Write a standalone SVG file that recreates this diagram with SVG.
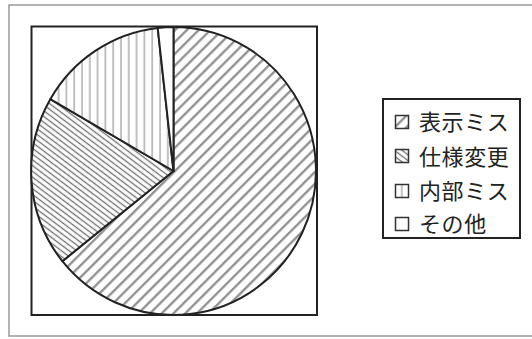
<svg xmlns="http://www.w3.org/2000/svg" width="532" height="339" viewBox="0 0 532 339">
<style>
.frame{fill:none;stroke:#222;stroke-width:2}
.outer{fill:none;stroke:#999;stroke-width:1.5}
.slice{stroke:#222;stroke-width:2;stroke-linejoin:round}
.icon{stroke:#333;stroke-width:1.5}
.lbl{font-family:"Noto Sans CJK JP","Noto Sans",sans-serif;font-size:22px;letter-spacing:0.6px;fill:#222}
</style>
<defs>
<pattern id="pDiag" patternUnits="userSpaceOnUse" width="8.3" height="10" patternTransform="rotate(45)">
<rect width="8.3" height="10" fill="#fff"/>
<line x1="4" y1="-1" x2="4" y2="11" stroke="#8a8a8a" stroke-width="2.2"/>
</pattern>
<pattern id="pBack" patternUnits="userSpaceOnUse" width="10" height="4.6" patternTransform="rotate(37)">
<rect width="10" height="4.6" fill="#fff"/>
<line x1="-1" y1="2.3" x2="11" y2="2.3" stroke="#6f6f6f" stroke-width="1.3"/>
</pattern>
<pattern id="pVert" patternUnits="userSpaceOnUse" width="7.8" height="10">
<rect width="7.8" height="10" fill="#fff"/>
<line x1="4" y1="-1" x2="4" y2="11" stroke="#a0a0a0" stroke-width="1.3"/>
</pattern>
</defs>
<rect class="outer" x="9" y="5" width="540" height="331"/>
<rect id="plot-area" class="frame" x="31.5" y="26.5" width="285.5" height="288.5"/>
<g id="slice-hyouji">
<path class="slice" fill="url(#pDiag)" d="M173.5,171 L173.5,27 A142.5,144 0 1 1 62.4,261.2 Z"/>
</g>
<g id="slice-shiyou">
<path class="slice" fill="url(#pBack)" d="M173.5,171 L62.4,261.2 A142.5,144 0 0 1 50.3,99.2 Z"/>
</g>
<g id="slice-naibu">
<path class="slice" fill="url(#pVert)" d="M173.5,171 L50.3,99.2 A142.5,144 0 0 1 157.7,27.9 Z"/>
</g>
<g id="slice-sonota">
<path class="slice" fill="#fff" d="M173.5,171 L157.7,27.9 A142.5,144 0 0 1 173.5,27 Z"/>
</g>
<g id="connectors"></g>
<g id="legend">
<rect class="frame" x="383" y="99" width="137" height="139" fill="#fff"/>
<g id="legend-hyouji">
<rect class="icon" x="395.5" y="115.5" width="13" height="13" fill="url(#pDiag)"/>
<text class="lbl" x="419" y="130">表示ミス</text>
</g>
<g id="legend-shiyou">
<rect class="icon" x="395.5" y="149.5" width="13" height="13" fill="url(#pBack)"/>
<text class="lbl" x="419" y="164.5">仕様変更</text>
</g>
<g id="legend-naibu">
<rect class="icon" x="395.5" y="184.5" width="13" height="13" fill="url(#pVert)"/>
<text class="lbl" x="419" y="199">内部ミス</text>
</g>
<g id="legend-sonota">
<rect class="icon" x="395.5" y="217.5" width="13" height="13" fill="#fff"/>
<text class="lbl" x="419" y="232">その他</text>
</g>
</g>
</svg>
